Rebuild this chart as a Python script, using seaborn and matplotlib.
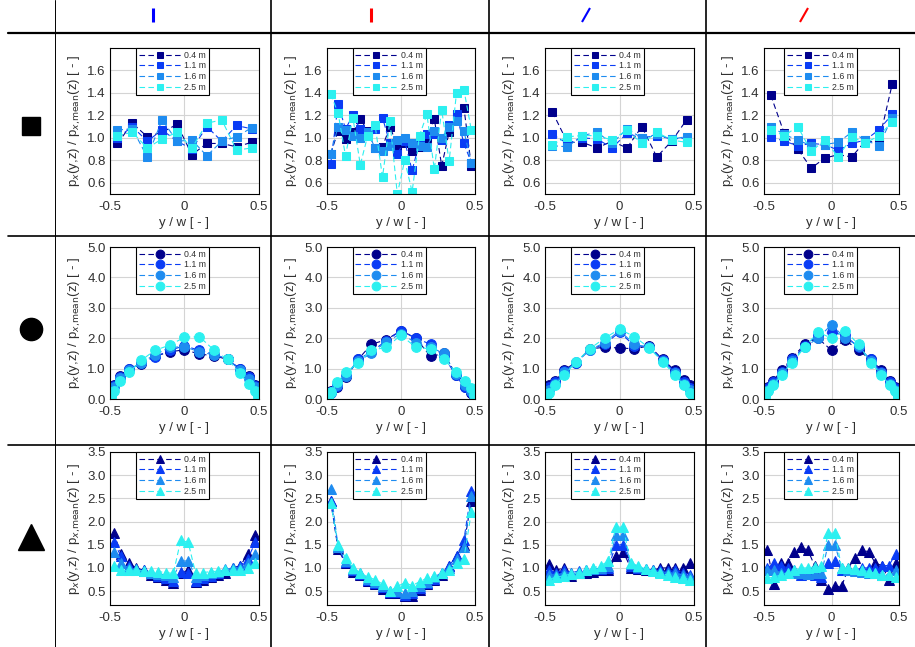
import matplotlib

matplotlib.use("Agg")
import matplotlib.pyplot as plt
from matplotlib.lines import Line2D
from matplotlib.ticker import FormatStrFormatter
import seaborn as sns

# ---- data ----
heights = ["0.4 m", "1.1 m", "1.6 m", "2.5 m"]
colors = ["#00008c", "#0a3cf5", "#1e8cf0", "#2cf0f0"]

x_ticks = [-0.5, 0, 0.5]
x_tick_labels = ["-0.5", "0", "0.5"]

y_coarse = [-0.45, -0.35, -0.25, -0.15, -0.05, 0.05, 0.15, 0.25, 0.35, 0.45]
y_fine = [-0.475, -0.425, -0.375, -0.325, -0.275, -0.225, -0.175, -0.125, -0.075, -0.025,
          0.025, 0.075, 0.125, 0.175, 0.225, 0.275, 0.325, 0.375, 0.425, 0.475]
y_circ = [-0.49, -0.47, -0.43, -0.37, -0.29, -0.2, -0.1, 0.0, 0.1, 0.2, 0.29, 0.37, 0.43, 0.47, 0.49]

# row 1: square
sq_1 = [
    [0.95, 1.13, 1.01, 1.05, 1.12, 0.85, 0.95, 0.95, 0.92, 0.96],
    [1.00, 1.10, 0.97, 1.07, 0.97, 0.90, 1.10, 0.97, 1.11, 1.08],
    [1.07, 1.08, 0.83, 1.16, 0.97, 0.98, 0.84, 0.97, 1.01, 1.09],
    [1.02, 1.05, 0.91, 0.99, 1.05, 0.91, 1.13, 1.16, 0.89, 0.91],
]
sq_2 = [
    [0.86, 1.06, 0.99, 1.05, 1.17, 1.06, 0.91, 0.92, 1.10, 0.93, 0.95, 0.88, 0.92, 1.00, 1.17, 0.75, 1.05, 1.20, 1.27, 0.75],
    [0.77, 1.30, 1.08, 1.20, 1.08, 1.05, 1.08, 1.18, 0.95, 0.86, 0.97, 0.71, 0.96, 1.03, 1.03, 0.98, 1.11, 1.21, 0.95, 0.78],
    [0.86, 1.10, 1.07, 1.02, 1.00, 1.05, 0.91, 0.88, 0.93, 0.98, 1.00, 0.95, 0.93, 0.92, 1.06, 1.00, 1.10, 1.15, 1.06, 0.78],
    [1.39, 1.22, 0.84, 1.18, 0.76, 1.02, 1.11, 0.65, 1.15, 0.50, 0.80, 0.52, 1.02, 1.21, 0.72, 1.25, 0.79, 1.40, 1.43, 1.07],
]
sq_3 = [
    [1.23, 0.96, 0.96, 0.91, 0.97, 0.91, 1.10, 0.83, 0.97, 1.16],
    [1.03, 0.95, 1.00, 0.99, 0.91, 1.04, 1.00, 1.02, 0.99, 1.00],
    [0.93, 0.92, 1.02, 1.05, 0.95, 1.08, 1.00, 1.03, 0.99, 1.01],
    [0.94, 1.01, 1.02, 1.02, 0.98, 1.07, 0.95, 1.05, 0.98, 0.96],
]
sq_4 = [
    [1.38, 1.04, 0.90, 0.73, 0.82, 0.85, 0.83, 0.97, 0.96, 1.48],
    [1.01, 0.97, 0.93, 0.95, 0.94, 0.89, 0.95, 0.98, 1.07, 1.21],
    [1.10, 1.03, 0.98, 0.93, 0.94, 0.96, 1.05, 0.98, 0.93, 1.18],
    [1.07, 1.02, 1.10, 0.88, 0.98, 0.83, 1.01, 0.95, 1.02, 1.14],
]

# row 2: circle
ci_1 = [
    [0.20, 0.45, 0.75, 1.00, 1.15, 1.40, 1.55, 1.62, 1.48, 1.42, 1.30, 1.00, 0.75, 0.45, 0.20],
    [0.18, 0.42, 0.72, 0.98, 1.18, 1.38, 1.60, 1.75, 1.60, 1.48, 1.30, 1.00, 0.72, 0.42, 0.18],
    [0.15, 0.38, 0.68, 0.95, 1.20, 1.45, 1.70, 1.72, 1.55, 1.45, 1.32, 0.95, 0.65, 0.38, 0.15],
    [0.05, 0.25, 0.60, 0.88, 1.27, 1.60, 1.77, 2.03, 2.05, 1.60, 1.30, 0.85, 0.50, 0.25, 0.05],
]
ci_2 = [
    [0.10, 0.25, 0.40, 0.72, 1.30, 1.80, 1.95, 2.25, 2.00, 1.40, 1.50, 0.80, 0.40, 0.20, 0.10],
    [0.10, 0.22, 0.42, 0.75, 1.30, 1.55, 1.92, 2.25, 2.00, 1.80, 1.40, 0.78, 0.38, 0.22, 0.10],
    [0.10, 0.20, 0.45, 0.75, 1.25, 1.50, 1.88, 2.15, 1.85, 1.70, 1.50, 0.82, 0.45, 0.25, 0.10],
    [0.08, 0.22, 0.55, 0.88, 1.20, 1.60, 1.70, 2.10, 1.70, 1.65, 1.30, 0.90, 0.60, 0.35, 0.12],
]
ci_3 = [
    [0.15, 0.45, 0.58, 0.97, 1.20, 1.65, 1.70, 1.68, 1.65, 1.75, 1.30, 0.95, 0.62, 0.45, 0.15],
    [0.12, 0.38, 0.55, 0.92, 1.20, 1.62, 1.80, 2.20, 1.75, 1.72, 1.28, 0.90, 0.55, 0.35, 0.12],
    [0.10, 0.30, 0.50, 0.88, 1.22, 1.62, 1.85, 2.25, 1.80, 1.70, 1.25, 0.85, 0.50, 0.28, 0.10],
    [0.05, 0.20, 0.45, 0.80, 1.22, 1.65, 2.00, 2.30, 2.05, 1.68, 1.22, 0.80, 0.45, 0.20, 0.05],
]
ci_4 = [
    [0.20, 0.40, 0.60, 0.95, 1.35, 1.80, 2.00, 1.60, 1.95, 1.60, 1.30, 0.95, 0.60, 0.40, 0.20],
    [0.15, 0.35, 0.55, 0.90, 1.30, 1.75, 2.10, 2.20, 2.10, 1.70, 1.30, 0.90, 0.55, 0.35, 0.15],
    [0.10, 0.30, 0.50, 0.85, 1.25, 1.70, 2.00, 2.45, 2.00, 1.75, 1.25, 0.85, 0.50, 0.30, 0.10],
    [0.05, 0.25, 0.45, 0.80, 1.20, 1.70, 2.20, 2.00, 2.25, 1.80, 1.20, 0.80, 0.45, 0.25, 0.05],
]

# row 3: triangle
tr_1 = [
    [1.75, 1.30, 1.10, 1.00, 0.95, 0.85, 0.80, 0.75, 0.68, 0.88, 0.95, 0.70, 0.75, 0.80, 0.85, 0.90, 1.00, 1.05, 1.30, 1.70],
    [1.55, 1.25, 1.05, 0.98, 0.95, 0.88, 0.82, 0.78, 0.72, 0.92, 0.90, 0.72, 0.78, 0.82, 0.88, 0.95, 1.00, 1.05, 1.20, 1.55],
    [1.35, 1.10, 1.00, 0.97, 0.93, 0.90, 0.87, 0.85, 0.80, 1.15, 1.15, 0.80, 0.85, 0.88, 0.92, 0.97, 1.00, 1.00, 1.10, 1.30],
    [1.05, 0.95, 0.95, 0.95, 0.93, 0.93, 0.92, 0.90, 0.88, 1.60, 1.55, 0.88, 0.90, 0.92, 0.93, 0.95, 0.95, 0.95, 1.00, 1.10],
]
tr_2 = [
    [2.45, 1.40, 1.10, 0.92, 0.85, 0.72, 0.66, 0.55, 0.45, 0.45, 0.40, 0.40, 0.52, 0.66, 0.74, 0.85, 1.05, 1.25, 1.50, 2.45],
    [2.45, 1.45, 1.12, 0.95, 0.86, 0.75, 0.68, 0.58, 0.48, 0.48, 0.42, 0.45, 0.56, 0.68, 0.76, 0.88, 1.05, 1.25, 1.60, 2.65],
    [2.70, 1.45, 1.15, 0.97, 0.88, 0.77, 0.70, 0.60, 0.50, 0.50, 0.45, 0.50, 0.60, 0.70, 0.80, 0.90, 1.00, 1.20, 1.45, 2.55],
    [2.40, 1.50, 1.22, 1.00, 0.90, 0.80, 0.75, 0.65, 0.50, 0.60, 0.68, 0.62, 0.70, 0.78, 0.82, 0.90, 0.95, 1.10, 1.20, 2.20],
]
tr_3 = [
    [1.08, 0.95, 1.00, 0.82, 0.90, 0.90, 0.92, 0.95, 0.95, 1.25, 1.35, 1.00, 0.97, 0.95, 0.95, 1.00, 1.00, 1.00, 1.00, 1.10],
    [0.95, 0.90, 0.95, 0.90, 0.93, 0.95, 0.97, 0.98, 1.00, 1.50, 1.50, 1.05, 1.00, 0.97, 0.95, 0.95, 0.93, 0.95, 0.90, 0.85],
    [0.85, 0.85, 0.88, 0.90, 0.92, 0.95, 0.97, 1.00, 1.05, 1.70, 1.70, 1.08, 1.03, 0.98, 0.95, 0.92, 0.90, 0.88, 0.85, 0.80],
    [0.75, 0.80, 0.83, 0.87, 0.90, 0.95, 1.00, 1.05, 1.15, 1.88, 1.88, 1.10, 1.05, 0.97, 0.93, 0.88, 0.85, 0.80, 0.78, 0.75],
]
tr_4 = [
    [1.38, 0.65, 1.10, 1.10, 1.35, 1.45, 1.38, 1.05, 0.75, 0.55, 0.60, 0.60, 1.00, 1.22, 1.38, 1.35, 1.10, 1.05, 0.75, 1.10],
    [1.00, 1.10, 1.05, 1.00, 0.95, 0.85, 0.87, 0.85, 0.80, 1.10, 1.15, 0.95, 0.95, 0.95, 1.00, 1.00, 1.00, 1.05, 1.05, 1.30],
    [0.95, 0.95, 0.90, 0.88, 0.88, 0.88, 0.87, 0.88, 0.88, 1.50, 1.50, 1.00, 0.95, 0.93, 0.92, 0.90, 0.88, 0.85, 0.85, 0.95],
    [0.78, 0.80, 0.85, 0.90, 0.95, 1.00, 1.00, 1.02, 1.05, 1.75, 1.75, 1.00, 1.00, 0.98, 0.95, 0.92, 0.88, 0.85, 0.85, 0.80],
]

row_markers = ["s", "o", "^"]
row_msizes = [5.5, 7, 7]
row_ylims = [(0.5, 1.8), (0.0, 5.0), (0.2, 3.5)]
row_yticks = [[0.6, 0.8, 1.0, 1.2, 1.4, 1.6], [0, 1, 2, 3, 4, 5], [0.5, 1.0, 1.5, 2.0, 2.5, 3.0, 3.5]]

panels = [
    [(y_coarse, sq_1), (y_fine, sq_2), (y_coarse, sq_3), (y_coarse, sq_4)],
    [(y_circ, ci_1), (y_circ, ci_2), (y_circ, ci_3), (y_circ, ci_4)],
    [(y_fine, tr_1), (y_fine, tr_2), (y_fine, tr_3), (y_fine, tr_4)],
]

# ---- layout in pixels ----
W, H = 915, 647
col_px = [(110, 259), (327, 475), (545, 694), (764, 899)]
row_px = [(48, 194), (247, 399), (452, 605)]

sns.set_theme(style="whitegrid")
plt.rcParams["font.family"] = ["Liberation Sans", "DejaVu Sans"]
plt.rcParams["axes.unicode_minus"] = False

fig = plt.figure(figsize=(W / 100, H / 100), dpi=100)
fig.patch.set_facecolor("white")

ylabel = r"p$_x$(y,z) / p$_{x{,}\mathrm{mean}}$(z) [ - ]"
txt_col = "#303030"

for r, row in enumerate(panels):
    for c, (xs, series) in enumerate(row):
        l, rr = col_px[c]
        t, b = row_px[r]
        ax = fig.add_axes([l / W, 1 - b / H, (rr - l) / W, (b - t) / H])
        for name, vals, col in zip(heights, series, colors):
            sns.lineplot(x=xs, y=vals, ax=ax, color=col, marker=row_markers[r],
                         markersize=row_msizes[r], markeredgecolor=col,
                         linestyle=(0, (5, 3)), linewidth=0.8, label=name,
                         sort=False, errorbar=None)
        ax.set_xlim(-0.5, 0.5)
        ax.set_ylim(*row_ylims[r])
        ax.set_xticks(x_ticks)
        ax.set_xticklabels(x_tick_labels)
        ax.set_yticks(row_yticks[r])
        ax.yaxis.set_major_formatter(FormatStrFormatter("%.1f"))
        ax.set_xlabel("y / w [ - ]", fontsize=9.5, color=txt_col, labelpad=3)
        ax.set_ylabel(ylabel, fontsize=9.5, color=txt_col, labelpad=3)
        ax.tick_params(labelsize=9.5, colors=txt_col, length=2, direction="in")
        ax.tick_params(axis="x", pad=5)
        ax.tick_params(axis="y", pad=3)
        ax.grid(True, color="#d4d4d4", linewidth=0.8)
        for sp in ax.spines.values():
            sp.set_edgecolor("black")
            sp.set_linewidth(0.8)
        leg = ax.legend(loc="upper center", bbox_to_anchor=(0.42, 1.0), fontsize=6.3,
                        frameon=True, fancybox=False, edgecolor="black", framealpha=1,
                        borderpad=0.3, labelspacing=0.2, handlelength=4.8,
                        handletextpad=0.4, borderaxespad=0.0, markerscale=0.9)
        leg.get_frame().set_linewidth(0.8)
        for txt in leg.get_texts():
            txt.set_color(txt_col)


def fig_line(x0, y0, x1, y1, **kw):
    fig.add_artist(Line2D([x0 / W, x1 / W], [1 - y0 / H, 1 - y1 / H],
                          transform=fig.transFigure, **kw))


# table grid
fig_line(8, 33, W, 33, color="black", linewidth=1.6)
fig_line(8, 236, W, 236, color="black", linewidth=1.2)
fig_line(8, 445, W, 445, color="black", linewidth=1.2)
fig_line(55, 0, 55, H, color="black", linewidth=0.7)
for xv in [271, 489, 706]:
    fig_line(xv, 0, xv, H, color="black", linewidth=1.2)

# column header glyphs
fig_line(153, 8, 153, 22, color="#0000ff", linewidth=2.2, solid_capstyle="butt")
fig_line(371, 8, 371, 22, color="#ff0000", linewidth=2.2, solid_capstyle="butt")
fig_line(582, 22, 590, 8, color="#0000ff", linewidth=1.5, solid_capstyle="butt")
fig_line(800, 22, 808, 8, color="#ff0000", linewidth=1.5, solid_capstyle="butt")

# row header glyphs
for mk, yc, ms in zip(row_markers, [126, 329, 537], [13, 16, 19]):
    fig.add_artist(Line2D([31 / W], [1 - yc / H], marker=mk, markersize=ms,
                          color="black", linestyle="none", transform=fig.transFigure))

fig.savefig("out.png", dpi=100, facecolor="white")
